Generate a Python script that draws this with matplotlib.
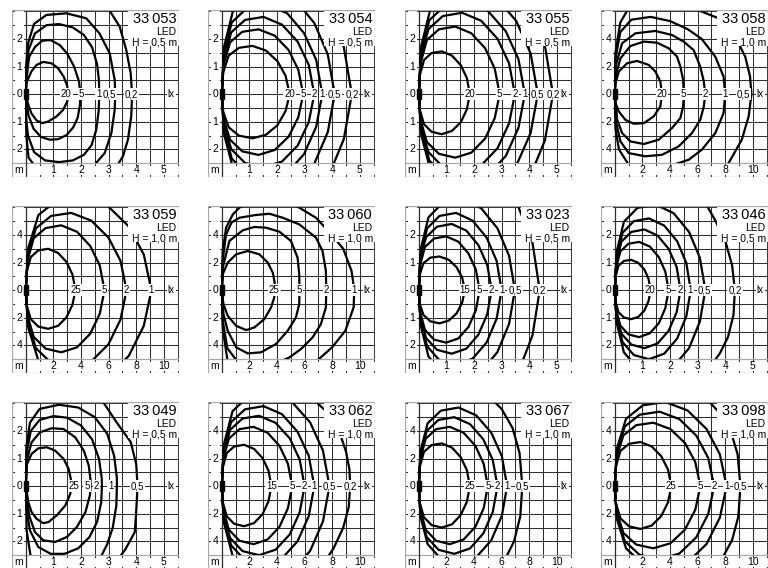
import matplotlib.pyplot as plt
from matplotlib.patches import Rectangle

plt.rcParams["font.family"] = ["Liberation Sans", "DejaVu Sans"]

FIG_W, FIG_H = 768, 568
PANEL = 167
COL_X = [12, 208, 405, 601]
ROW_Y = [10, 206, 402]

# ---- isolux curves, metres ----
# 33 053  LED  H = 0,5 m
P33053_LABELS = ["20", "5", "1", "0,5", "0,2"]
P33053_LABEL_X = [1.47, 2.01, 2.65, 3.04, 3.84]
P33053_CURVES = [
    [(0, 0), (0.02, 0.40), (0.20, 0.82), (0.39, 1.06), (0.63, 1.17), (0.93, 1.12), (1.17, 0.94),
     (1.37, 0.64), (1.50, 0.30), (1.53, 0), (1.50, -0.27), (1.35, -0.57), (1.11, -0.81),
     (0.81, -0.99), (0.60, -1.05), (0.39, -0.95), (0.20, -0.69), (0.08, -0.35), (0, 0)],
    [(0, 0), (0.03, 0.6), (0.12, 1.35), (0.34, 1.72), (0.6, 1.94), (0.9, 1.96), (1.23, 1.78),
     (1.5, 1.47), (1.75, 1.0), (1.93, 0.45), (1.98, 0), (1.96, -0.4), (1.88, -0.85), (1.72, -1.2),
     (1.48, -1.48), (1.17, -1.63), (0.87, -1.65), (0.55, -1.55), (0.28, -1.25), (0.09, -0.75), (0, 0)],
    [(0, 0), (0.02, 0.9), (0.1, 1.6), (0.33, 2.2), (0.75, 2.5), (1.2, 2.54), (1.7, 2.42),
     (2.1, 2.15), (2.4, 1.7), (2.58, 1.1), (2.65, 0.5), (2.66, 0), (2.64, -0.6), (2.55, -1.3),
     (2.38, -1.85), (2.1, -2.2), (1.7, -2.4), (1.2, -2.46), (0.7, -2.4), (0.3, -2.1),
     (0.08, -1.5), (0, -0.8), (0, 0)],
    [(0, 0), (0.01, 1.0), (0.08, 1.84), (0.3, 2.55), (0.75, 2.87), (1.47, 2.93), (2.19, 2.75),
     (2.67, 2.2), (3.04, 1.48), (3.22, 0.52), (3.24, 0), (3.22, -0.57), (3.1, -1.41),
     (2.86, -2.13), (2.55, -2.49), (2.3, -2.8), (1.2, -2.9), (0.4, -2.7), (0.1, -2.3),
     (0.02, -1.5), (0, 0)],
    [(2.9, 3.2), (3.01, 3.07), (3.4, 2.45), (3.64, 1.6), (3.8, 0.76), (3.85, 0), (3.82, -0.8),
     (3.7, -1.65), (3.52, -2.25), (3.3, -2.6)],
]

# 33 054  LED  H = 0,5 m
P33054_LABELS = ["20", "5", "2", "1", "0,5", "0,2"]
P33054_LABEL_X = [2.46, 2.95, 3.35, 3.64, 4.09, 4.71]
P33054_CURVES = [
    [(0, 0), (0.05, 0.79), (0.25, 1.4), (0.62, 1.68), (1.11, 1.75), (1.6, 1.58), (2.02, 1.19),
     (2.31, 0.67), (2.46, 0), (2.31, -0.61), (2.02, -1.12), (1.6, -1.47), (1.11, -1.6),
     (0.62, -1.5), (0.25, -1.2), (0.05, -0.64), (0, 0)],
    [(0, 0), (0.06, 1.06), (0.3, 1.88), (0.74, 2.26), (1.33, 2.35), (1.92, 2.12), (2.42, 1.6),
     (2.77, 0.89), (2.95, 0), (2.77, -0.84), (2.42, -1.54), (1.92, -2.02), (1.33, -2.2),
     (0.74, -2.07), (0.3, -1.65), (0.06, -0.88), (0, 0)],
    [(0, 0), (0.07, 1.26), (0.34, 2.24), (0.84, 2.69), (1.51, 2.8), (2.18, 2.52), (2.75, 1.9),
     (3.15, 1.06), (3.35, 0), (3.15, -1.01), (2.75, -1.86), (2.18, -2.44), (1.51, -2.65),
     (0.84, -2.49), (0.34, -1.99), (0.07, -1.06), (0, 0)],
    [(0, 0), (0.07, 1.46), (0.36, 2.6), (0.91, 3.12), (1.64, 3.25), (2.37, 2.93), (2.98, 2.21),
     (3.42, 1.24), (3.64, 0), (3.42, -1.18), (2.98, -2.17), (2.37, -2.85), (1.64, -3.1),
     (0.91, -2.91), (0.36, -2.33), (0.07, -1.24), (0, 0)],
    [(0, 0), (0.08, 1.71), (0.41, 3.04), (1.02, 3.65), (1.84, 3.8), (2.66, 3.42), (3.35, 2.58),
     (3.84, 1.44), (4.09, 0), (3.84, -1.37), (3.35, -2.52), (2.66, -3.31), (1.84, -3.6),
     (1.02, -3.38), (0.41, -2.7), (0.08, -1.44), (0, 0)],
    [(2.12, 4.5), (3.06, 4.05), (3.85, 3.06), (4.42, 1.71), (4.71, 0), (4.42, -1.63),
     (3.85, -3.01), (3.06, -3.96), (2.12, -4.3)],
]

# 33 055  LED  H = 0,5 m
P33055_LABELS = ["20", "5", "2", "1", "0,5", "0,2"]
P33055_LABEL_X = [1.85, 2.93, 3.48, 3.84, 4.31, 4.86]
P33055_CURVES = [
    [(0, 0), (0.04, 0.7), (0.19, 1.24), (0.46, 1.49), (0.83, 1.55), (1.2, 1.4), (1.52, 1.05),
     (1.74, 0.59), (1.85, 0), (1.74, -0.55), (1.52, -1.02), (1.2, -1.33), (0.83, -1.45),
     (0.46, -1.36), (0.19, -1.09), (0.04, -0.58), (0, 0)],
    [(0, 0), (0.06, 1.1), (0.29, 1.96), (0.73, 2.35), (1.32, 2.45), (1.9, 2.21), (2.4, 1.67),
     (2.75, 0.93), (2.93, 0), (2.75, -0.87), (2.4, -1.61), (1.9, -2.12), (1.32, -2.3),
     (0.73, -2.16), (0.29, -1.73), (0.06, -0.92), (0, 0)],
    [(0, 0), (0.07, 1.33), (0.35, 2.36), (0.87, 2.83), (1.57, 2.95), (2.26, 2.66), (2.85, 2.01),
     (3.27, 1.12), (3.48, 0), (3.27, -1.06), (2.85, -1.96), (2.26, -2.58), (1.57, -2.8),
     (0.87, -2.63), (0.35, -2.1), (0.07, -1.12), (0, 0)],
    [(0, 0), (0.08, 1.51), (0.38, 2.68), (0.96, 3.22), (1.73, 3.35), (2.5, 3.02), (3.15, 2.28),
     (3.61, 1.27), (3.84, 0), (3.61, -1.22), (3.15, -2.24), (2.5, -2.94), (1.73, -3.2),
     (0.96, -3.01), (0.38, -2.4), (0.08, -1.28), (0, 0)],
    [(0, 0), (0.09, 1.76), (0.43, 3.12), (1.08, 3.74), (1.94, 3.9), (2.8, 3.51), (3.53, 2.65),
     (4.05, 1.48), (4.31, 0), (4.05, -1.41), (3.53, -2.59), (2.8, -3.4), (1.94, -3.7),
     (1.08, -3.48), (0.43, -2.78), (0.09, -1.48), (0, 0)],
    [(2.19, 4.6), (3.16, 4.14), (3.99, 3.13), (4.57, 1.75), (4.86, 0), (4.57, -1.67),
     (3.99, -3.08), (3.16, -4.05), (2.19, -4.4)],
]

# 33 058  LED  H = 1,0 m
P33058_LABELS = ["20", "5", "2", "1", "0,5"]
P33058_LABEL_X = [3.42, 4.99, 6.55, 8.0, 9.33]
P33058_CURVES = [
    [(0, 0), (0.05, 0.8), (0.29, 1.64), (0.89, 2.24), (1.61, 2.41), (2.46, 2.12), (2.94, 1.64),
     (3.3, 0.92), (3.42, 0), (3.3, -0.89), (2.82, -1.61), (2.1, -2.1), (1.37, -2.14),
     (0.77, -1.86), (0.29, -1.25), (0.05, -0.65), (0, 0)],
    [(0, 0), (0.05, 1.28), (0.41, 2.6), (1.13, 3.49), (2.1, 3.81), (3.06, 3.73), (3.9, 3.33),
     (4.51, 2.72), (4.75, 2.0), (4.95, 1.04), (5.0, 0), (4.95, -0.89), (4.75, -1.73), (4.14, -2.46),
     (3.18, -3.3), (2.1, -3.61), (1.13, -3.42), (0.53, -2.82), (0.17, -1.86), (0, 0)],
    [(0, 0), (0.05, 2.0), (0.53, 3.69), (1.49, 4.41), (2.94, 4.58), (4.14, 4.29), (4.99, 3.81),
     (5.71, 3.2), (6.19, 2.0), (6.45, 0.92), (6.55, 0), (6.45, -0.89), (6.19, -1.86), (5.59, -2.82),
     (4.63, -3.78), (3.42, -4.39), (2.22, -4.5), (1.01, -4.27), (0.41, -3.42), (0.1, -2.1), (0, 0)],
    [(0, 0), (0.05, 2.6), (0.4, 4.5), (1.2, 5.4), (2.6, 5.6), (4.0, 5.3), (5.3, 4.7), (6.3, 4.0),
     (7.28, 2.72), (7.88, 1.28), (8.0, 0), (7.88, -1.37), (7.28, -2.82), (6.31, -4.02),
     (5.35, -4.75), (4.0, -5.2), (2.5, -5.4), (1.0, -5.1), (0.3, -4.0), (0.05, -2.5), (0, 0)],
    [(0, 0), (0.05, 3.0), (0.4, 5.2), (1.1, 6.4), (2.5, 6.9), (3.8, 6.7), (5.5, 6.3), (7.52, 5.5),
     (8.72, 4.17), (9.45, 2.72), (9.8, 1.28), (9.9, 0), (9.7, -1.6), (9.2, -3.3), (8.24, -5.0),
     (7.6, -5.8)],
]

# 33 059  LED  H = 1,0 m
P33059_LABELS = ["25", "5", "2", "1"]
P33059_LABEL_X = [3.6, 5.7, 7.3, 9.1]
P33059_CURVES = [
    [(0, 0), (0.07, 1.35), (0.36, 2.4), (0.9, 2.88), (1.62, 3.0), (2.34, 2.7), (2.95, 2.04),
     (3.38, 1.14), (3.6, 0), (3.38, -1.06), (2.95, -1.96), (2.34, -2.58), (1.62, -2.8),
     (0.9, -2.63), (0.36, -2.1), (0.07, -1.12), (0, 0)],
    [(0, 0), (0.11, 2.1), (0.57, 3.76), (1.43, 4.5), (2.57, 4.7), (3.71, 4.23), (4.67, 3.2),
     (5.36, 1.79), (5.7, 0), (5.36, -1.71), (4.67, -3.15), (3.71, -4.14), (2.57, -4.5),
     (1.43, -4.23), (0.57, -3.38), (0.11, -1.8), (0, 0)],
    [(0, 0), (0.15, 2.52), (0.73, 4.48), (1.83, 5.38), (3.29, 5.6), (4.75, 5.04), (5.99, 3.81),
     (6.86, 2.13), (7.3, 0), (6.86, -2.13), (5.99, -3.92), (4.75, -5.15), (3.29, -5.6),
     (1.83, -5.26), (0.73, -4.2), (0.15, -2.24), (0, 0)],
    [(0, 0), (0.18, 3.06), (0.91, 5.44), (2.28, 6.53), (4.1, 6.8), (5.92, 6.12), (7.46, 4.62),
     (8.55, 2.58), (9.1, 0), (8.55, -2.58), (7.46, -4.76), (5.92, -6.26), (4.1, -6.8),
     (2.28, -6.39), (0.91, -5.1), (0.18, -2.72), (0, 0)],
]

# 33 060  LED  H = 1,0 m
P33060_LABELS = ["25", "5", "2", "1"]
P33060_LABEL_X = [3.8, 5.6, 7.6, 9.6]
P33060_CURVES = [
    [(0, 0), (0.07, 1.16), (0.43, 2.0), (1.04, 2.6), (1.88, 2.84), (2.72, 2.6), (3.33, 2.0),
     (3.69, 1.28), (3.83, 0.55), (3.85, 0), (3.8, -0.53), (3.57, -1.25), (3.08, -2.1),
     (2.36, -2.7), (1.76, -2.89), (1.04, -2.58), (0.43, -1.86), (0.12, -1.01), (0, 0)],
    [(0, 0), (0.07, 1.64), (0.55, 3.57), (1.52, 4.34), (2.36, 4.58), (3.2, 4.53), (4.17, 4.24),
     (5.01, 3.57), (5.49, 2.36), (5.61, 1.16), (5.63, 0), (5.61, -1.01), (5.37, -1.98),
     (4.77, -2.94), (3.93, -3.9), (2.84, -4.5), (1.88, -4.58), (1.04, -4.14), (0.43, -2.94),
     (0.12, -1.73), (0, 0)],
    [(0, 0), (0.07, 2.2), (0.3, 4.0), (0.7, 4.9), (1.28, 5.25), (2.48, 5.45), (3.45, 5.54),
     (4.41, 5.25), (5.61, 4.77), (6.82, 3.81), (7.3, 2.84), (7.54, 1.4), (7.57, 0), (7.54, -1.25),
     (7.18, -2.46), (6.58, -3.42), (5.73, -4.27), (4.89, -4.87), (4.0, -5.3), (2.5, -5.5),
     (1.3, -5.4), (0.4, -4.2), (0.07, -2.2), (0, 0)],
    [(0, 0), (0.07, 2.84), (0.31, 4.53), (0.8, 5.49), (1.28, 5.98), (2.5, 6.6), (4.5, 6.6),
     (5.61, 5.98), (6.82, 5.25), (7.8, 4.2), (8.8, 3.0), (9.4, 1.4), (9.6, 0), (9.55, -1.25),
     (8.95, -2.94), (7.99, -4.14), (7.04, -4.99), (6.5, -5.4), (4.0, -6.5), (1.0, -6.3),
     (0.4, -5.0), (0.07, -2.8), (0, 0)],
]

# 33 023  LED  H = 0,5 m
P33023_LABELS = ["15", "5", "2", "1", "0,5", "0,2"]
P33023_LABEL_X = [1.67, 2.2, 2.64, 3.0, 3.48, 4.38]
P33023_CURVES = [
    [(0, 0), (0.03, 0.55), (0.17, 0.98), (0.42, 1.18), (0.75, 1.22), (1.09, 1.1), (1.37, 0.83),
     (1.57, 0.46), (1.67, 0), (1.57, -0.45), (1.37, -0.84), (1.09, -1.1), (0.75, -1.2),
     (0.42, -1.13), (0.17, -0.9), (0.03, -0.48), (0, 0)],
    [(0, 0), (0.04, 0.88), (0.22, 1.56), (0.55, 1.87), (0.99, 1.95), (1.43, 1.76), (1.8, 1.33),
     (2.07, 0.74), (2.2, 0), (2.07, -0.72), (1.8, -1.33), (1.43, -1.75), (0.99, -1.9),
     (0.55, -1.79), (0.22, -1.43), (0.04, -0.76), (0, 0)],
    [(0, 0), (0.05, 1.08), (0.26, 1.92), (0.66, 2.3), (1.19, 2.4), (1.72, 2.16), (2.16, 1.63),
     (2.48, 0.91), (2.64, 0), (2.48, -0.87), (2.16, -1.61), (1.72, -2.12), (1.19, -2.3),
     (0.66, -2.16), (0.26, -1.73), (0.05, -0.92), (0, 0)],
    [(0, 0), (0.06, 1.26), (0.3, 2.24), (0.75, 2.69), (1.35, 2.8), (1.95, 2.52), (2.46, 1.9),
     (2.82, 1.06), (3.0, 0), (2.82, -1.03), (2.46, -1.89), (1.95, -2.48), (1.35, -2.7),
     (0.75, -2.54), (0.3, -2.03), (0.06, -1.08), (0, 0)],
    [(0, 0), (0.07, 1.49), (0.35, 2.64), (0.87, 3.17), (1.57, 3.3), (2.26, 2.97), (2.85, 2.24),
     (3.27, 1.25), (3.48, 0), (3.27, -1.22), (2.85, -2.24), (2.26, -2.94), (1.57, -3.2),
     (0.87, -3.01), (0.35, -2.4), (0.07, -1.28), (0, 0)],
    [(1.97, 4.5), (2.85, 4.05), (3.59, 3.06), (4.12, 1.71), (4.38, 0), (4.12, -1.63),
     (3.59, -3.01), (2.85, -3.96), (1.97, -4.3)],
]

# 33 046  LED  H = 0,5 m
P33046_LABELS = ["20", "5", "2", "1", "0,5", "0,2"]
P33046_LABEL_X = [1.27, 1.92, 2.36, 2.72, 3.26, 4.35]
P33046_CURVES = [
    [(0, 0), (0.03, 0.5), (0.13, 0.88), (0.33, 1.06), (0.59, 1.1), (0.85, 0.99), (1.07, 0.75),
     (1.22, 0.42), (1.3, 0), (1.22, -0.4), (1.07, -0.74), (0.85, -0.97), (0.59, -1.05),
     (0.33, -0.99), (0.13, -0.79), (0.03, -0.42), (0, 0)],
    [(0, 0), (0.04, 0.79), (0.2, 1.4), (0.49, 1.68), (0.88, 1.75), (1.27, 1.58), (1.6, 1.19),
     (1.83, 0.67), (1.95, 0), (1.83, -0.65), (1.6, -1.19), (1.27, -1.56), (0.88, -1.7),
     (0.49, -1.6), (0.2, -1.28), (0.04, -0.68), (0, 0)],
    [(0, 0), (0.05, 0.99), (0.24, 1.76), (0.6, 2.11), (1.07, 2.2), (1.55, 1.98), (1.95, 1.5),
     (2.24, 0.84), (2.38, 0), (2.24, -0.8), (1.95, -1.47), (1.55, -1.93), (1.07, -2.1),
     (0.6, -1.97), (0.24, -1.58), (0.05, -0.84), (0, 0)],
    [(0, 0), (0.06, 1.17), (0.28, 2.08), (0.69, 2.5), (1.24, 2.6), (1.79, 2.34), (2.26, 1.77),
     (2.59, 0.99), (2.75, 0), (2.59, -0.95), (2.26, -1.75), (1.79, -2.3), (1.24, -2.5),
     (0.69, -2.35), (0.28, -1.88), (0.06, -1.0), (0, 0)],
    [(0, 0), (0.07, 1.4), (0.33, 2.48), (0.82, 2.98), (1.48, 3.1), (2.13, 2.79), (2.69, 2.11),
     (3.08, 1.18), (3.28, 0), (3.08, -1.14), (2.69, -2.1), (2.13, -2.76), (1.48, -3.0),
     (0.82, -2.82), (0.33, -2.25), (0.07, -1.2), (0, 0)],
    [(3.2, 3.3), (3.6, 2.6), (4.0, 1.8), (4.25, 0.9), (4.35, 0), (4.3, -0.9), (4.1, -1.7),
     (3.8, -2.3), (3.5, -2.7)],
]

# 33 049  LED  H = 0,5 m
P33049_LABELS = ["25", "5", "2", "1", "0,5"]
P33049_LABEL_X = [1.76, 2.22, 2.56, 3.07, 4.05]
P33049_CURVES = [
    [(0, 0), (0.02, 0.75), (0.21, 1.17), (0.45, 1.37), (0.76, 1.41), (1.06, 1.29), (1.37, 0.99),
     (1.55, 0.63), (1.63, 0.27), (1.65, 0), (1.61, -0.28), (1.43, -0.7), (1.12, -1.06),
     (0.82, -1.3), (0.63, -1.34), (0.39, -1.18), (0.21, -0.94), (0.09, -0.58), (0, 0)],
    [(0, 0), (0.05, 0.99), (0.21, 1.59), (0.51, 1.95), (0.94, 2.1), (1.37, 2.07), (1.79, 1.77),
     (2.1, 1.29), (2.28, 0.75), (2.34, 0.27), (2.35, 0), (2.32, -0.34), (2.16, -0.94),
     (1.85, -1.48), (1.49, -1.84), (1.06, -2.02), (0.63, -1.96), (0.33, -1.66), (0.12, -1.06), (0, 0)],
    [(0, 0), (0.03, 1.2), (0.18, 2.0), (0.5, 2.4), (1.0, 2.54), (1.5, 2.48), (2.0, 2.2), (2.4, 1.7),
     (2.65, 1.0), (2.75, 0.3), (2.76, 0), (2.73, -0.6), (2.58, -1.3), (2.3, -1.85), (1.9, -2.25),
     (1.4, -2.45), (0.9, -2.45), (0.45, -2.2), (0.15, -1.6), (0.02, -0.8), (0, 0)],
    [(0, 0), (0.02, 1.4), (0.15, 2.3), (0.5, 2.8), (1.2, 2.95), (1.9, 2.85), (2.5, 2.5), (2.95, 1.9),
     (3.2, 1.1), (3.3, 0.3), (3.3, 0), (3.28, -0.7), (3.15, -1.5), (2.95, -2.1), (2.75, -2.5),
     (2.4, -2.9), (1.0, -3.1), (0.2, -2.7), (0.03, -1.6), (0, 0)],
    [(2.5, 3.3), (2.8, 3.05), (3.3, 2.3), (3.8, 1.6), (4.0, 0.8), (4.05, 0), (4.0, -0.9),
     (3.95, -1.66), (3.6, -2.3), (3.3, -2.7)],
]

# 33 062  LED  H = 1,0 m
P33062_LABELS = ["15", "5", "2", "1", "0,5", "0,2"]
P33062_LABEL_X = [3.6, 5.1, 6.0, 6.7, 7.8, 9.3]
P33062_CURVES = [
    [(0, 0), (0.07, 1.35), (0.36, 2.4), (0.9, 2.88), (1.62, 3.0), (2.34, 2.7), (2.95, 2.04),
     (3.38, 1.14), (3.6, 0), (3.38, -1.1), (2.95, -2.03), (2.34, -2.67), (1.62, -2.9),
     (0.9, -2.73), (0.36, -2.18), (0.07, -1.16), (0, 0)],
    [(0, 0), (0.1, 1.94), (0.51, 3.44), (1.28, 4.13), (2.3, 4.3), (3.32, 3.87), (4.18, 2.92),
     (4.79, 1.63), (5.1, 0), (4.79, -1.6), (4.18, -2.94), (3.32, -3.86), (2.3, -4.2),
     (1.28, -3.95), (0.51, -3.15), (0.1, -1.68), (0, 0)],
    [(0, 0), (0.12, 2.3), (0.6, 4.08), (1.5, 4.9), (2.7, 5.1), (3.9, 4.59), (4.92, 3.47),
     (5.64, 1.94), (6.0, 0), (5.64, -1.9), (4.92, -3.5), (3.9, -4.6), (2.7, -5.0),
     (1.5, -4.7), (0.6, -3.75), (0.12, -2.0), (0, 0)],
    [(0, 0), (0.13, 2.61), (0.67, 4.64), (1.68, 5.57), (3.02, 5.8), (4.36, 5.22), (5.49, 3.94),
     (6.3, 2.2), (6.7, 0), (6.3, -2.17), (5.49, -3.99), (4.36, -5.24), (3.02, -5.7),
     (1.68, -5.36), (0.67, -4.28), (0.13, -2.28), (0, 0)],
    [(0, 0), (0.16, 3.06), (0.78, 5.44), (1.95, 6.53), (3.51, 6.8), (5.07, 6.12), (6.4, 4.62),
     (7.33, 2.58), (7.8, 0), (7.33, -2.55), (6.4, -4.69), (5.07, -6.16), (3.51, -6.7),
     (1.95, -6.3), (0.78, -5.03), (0.16, -2.68), (0, 0)],
    [(6.5, 6.4), (7.6, 5.4), (8.5, 4.0), (9.0, 2.5), (9.25, 1.2), (9.3, 0), (9.2, -1.5),
     (8.8, -3.0), (8.1, -4.5), (7.3, -5.7), (6.8, -6.3)],
]

# 33 067  LED  H = 1,0 m
P33067_LABELS = ["25", "5", "2", "1", "0,5"]
P33067_LABEL_X = [3.7, 5.0, 5.7, 6.4, 7.5]
P33067_CURVES = [
    [(0, 0), (0.07, 1.4), (0.37, 2.48), (0.93, 2.98), (1.67, 3.1), (2.41, 2.79), (3.03, 2.11),
     (3.48, 1.18), (3.7, 0), (3.48, -1.14), (3.03, -2.1), (2.41, -2.76), (1.67, -3.0),
     (0.93, -2.82), (0.37, -2.25), (0.07, -1.2), (0, 0)],
    [(0, 0), (0.1, 1.94), (0.5, 3.44), (1.25, 4.13), (2.25, 4.3), (3.25, 3.87), (4.1, 2.92),
     (4.7, 1.63), (5.0, 0), (4.7, -1.6), (4.1, -2.94), (3.25, -3.86), (2.25, -4.2),
     (1.25, -3.95), (0.5, -3.15), (0.1, -1.68), (0, 0)],
    [(0, 0), (0.11, 2.25), (0.57, 4.0), (1.43, 4.8), (2.57, 5.0), (3.71, 4.5), (4.67, 3.4),
     (5.36, 1.9), (5.7, 0), (5.36, -1.86), (4.67, -3.43), (3.71, -4.51), (2.57, -4.9),
     (1.43, -4.61), (0.57, -3.68), (0.11, -1.96), (0, 0)],
    [(0, 0), (0.13, 2.57), (0.64, 4.56), (1.6, 5.47), (2.88, 5.7), (4.16, 5.13), (5.25, 3.88),
     (6.02, 2.17), (6.4, 0), (6.02, -2.13), (5.25, -3.92), (4.16, -5.15), (2.88, -5.6),
     (1.6, -5.26), (0.64, -4.2), (0.13, -2.24), (0, 0)],
    [(5.0, 6.6), (6.0, 5.6), (6.8, 4.2), (7.3, 2.4), (7.5, 0), (7.35, -2.2), (6.9, -4.0),
     (6.2, -5.4), (5.5, -6.3)],
]

# 33 098  LED  H = 1,0 m
P33098_LABELS = ["25", "5", "2", "1", "0,5"]
P33098_LABEL_X = [4.1, 6.2, 7.2, 8.1, 9.1]
P33098_CURVES = [
    [(0, 0), (0.08, 1.44), (0.41, 2.56), (1.03, 3.07), (1.85, 3.2), (2.67, 2.88), (3.36, 2.18),
     (3.85, 1.22), (4.1, 0), (3.85, -1.18), (3.36, -2.17), (2.67, -2.85), (1.85, -3.1),
     (1.03, -2.91), (0.41, -2.33), (0.08, -1.24), (0, 0)],
    [(0, 0), (0.12, 2.07), (0.62, 3.68), (1.55, 4.42), (2.79, 4.6), (4.03, 4.14), (5.08, 3.13),
     (5.83, 1.75), (6.2, 0), (5.83, -1.71), (5.08, -3.15), (4.03, -4.14), (2.79, -4.5),
     (1.55, -4.23), (0.62, -3.38), (0.12, -1.8), (0, 0)],
    [(0, 0), (0.14, 2.43), (0.72, 4.32), (1.8, 5.18), (3.24, 5.4), (4.68, 4.86), (5.9, 3.67),
     (6.77, 2.05), (7.2, 0), (6.77, -2.01), (5.9, -3.71), (4.68, -4.88), (3.24, -5.3),
     (1.8, -4.98), (0.72, -3.98), (0.14, -2.12), (0, 0)],
    [(0, 0), (0.16, 2.75), (0.81, 4.88), (2.03, 5.86), (3.65, 6.1), (5.27, 5.49), (6.64, 4.15),
     (7.61, 2.32), (8.1, 0), (7.61, -2.28), (6.64, -4.2), (5.27, -5.52), (3.65, -6.0),
     (2.03, -5.64), (0.81, -4.5), (0.16, -2.4), (0, 0)],
    [(6.5, 6.5), (7.6, 5.3), (8.4, 4.0), (8.9, 2.3), (9.1, 0), (8.95, -2.2), (8.5, -3.9),
     (7.8, -5.2), (7.0, -6.3)],
]

# (column, row, number, mounting height, labels, label positions, curves)
PANELS = [
    (0, 0, "33\u2009053", 0.5, P33053_LABELS, P33053_LABEL_X, P33053_CURVES),
    (1, 0, "33\u2009054", 0.5, P33054_LABELS, P33054_LABEL_X, P33054_CURVES),
    (2, 0, "33\u2009055", 0.5, P33055_LABELS, P33055_LABEL_X, P33055_CURVES),
    (3, 0, "33\u2009058", 1.0, P33058_LABELS, P33058_LABEL_X, P33058_CURVES),
    (0, 1, "33\u2009059", 1.0, P33059_LABELS, P33059_LABEL_X, P33059_CURVES),
    (1, 1, "33\u2009060", 1.0, P33060_LABELS, P33060_LABEL_X, P33060_CURVES),
    (2, 1, "33\u2009023", 0.5, P33023_LABELS, P33023_LABEL_X, P33023_CURVES),
    (3, 1, "33\u2009046", 0.5, P33046_LABELS, P33046_LABEL_X, P33046_CURVES),
    (0, 2, "33\u2009049", 0.5, P33049_LABELS, P33049_LABEL_X, P33049_CURVES),
    (1, 2, "33\u2009062", 1.0, P33062_LABELS, P33062_LABEL_X, P33062_CURVES),
    (2, 2, "33\u2009067", 1.0, P33067_LABELS, P33067_LABEL_X, P33067_CURVES),
    (3, 2, "33\u2009098", 1.0, P33098_LABELS, P33098_LABEL_X, P33098_CURVES),
]

GRID = "#2e2e2e"
FRAME = "#a8a8a8"


def draw_panel(fig, col, row, number, height, labels, label_x, curves):
    k = 1 if height == 0.5 else 2   # grid unit: 0,5 m or 1 m
    ax = fig.add_axes([COL_X[col] / FIG_W, 1 - (ROW_Y[row] + PANEL) / FIG_H,
                       PANEL / FIG_W, PANEL / FIG_H])
    x0, x1 = -0.5 * k, 5.55 * k
    y0, y1 = -3.0 * k, 3.05 * k
    yb = -2.5 * k
    ax.set_xlim(x0, x1)
    ax.set_ylim(y0, y1)
    ax.axis("off")

    step = 0.5 * k
    xs = [step * i for i in range(1, 12)]
    ys = [step * j for j in range(-4, 7)]
    for x in xs:
        ax.plot([x, x], [yb, y1], color=GRID, lw=0.75, zorder=1)
        ax.plot([x, x], [y0, y0 + 0.07 * k], color=GRID, lw=0.75, zorder=1)
        ax.plot([x, x], [yb - 0.08 * k, yb], color=GRID, lw=0.75, zorder=1)
    for y in ys:
        ax.plot([0, x1], [y, y], color=GRID, lw=0.75, zorder=1)
        ax.plot([x0, x0 + 0.07 * k], [y, y], color=GRID, lw=0.75, zorder=1)
        ax.plot([-0.08 * k, 0], [y, y], color=GRID, lw=0.75, zorder=1)
    ax.plot([x0, x1], [yb, yb], color=FRAME, lw=0.9, zorder=1)
    ax.plot([0, 0], [y0, y1], color=GRID, lw=0.9, zorder=1)
    ax.add_patch(Rectangle((x0, y0), x1 - x0, y1 - y0, fill=False, ec=FRAME, lw=0.9, zorder=8))

    for v in (-2, -1, 0, 1, 2):
        ax.text(-0.24 * k, v * k, str(abs(v * k)), ha="center", va="center", fontsize=7.5, zorder=3)
    for v in range(1, 6):
        ax.text(v * k, -2.76 * k, str(v * k), ha="center", va="center", fontsize=7.5, zorder=3)
    ax.text(-0.25 * k, -2.76 * k, "m", ha="center", va="center", fontsize=7.5, zorder=3)

    clip = Rectangle((-0.03 * k, yb), x1 + 0.03 * k, y1 - yb, transform=ax.transData)
    for pts in curves:
        line, = ax.plot([p[0] for p in pts], [p[1] for p in pts], color="black", lw=1.6,
                        solid_joinstyle="round", solid_capstyle="round", zorder=2)
        line.set_clip_path(clip)

    ax.add_patch(Rectangle((-0.07 * k, -0.18 * k), 0.16 * k, 0.36 * k, color="black", zorder=5))

    box = dict(boxstyle="square,pad=0.1", fc="white", ec="none")
    for t, x in zip(labels, label_x):
        ax.text(x, 0, t, ha="center", va="center", fontsize=7, bbox=box, zorder=6)
    ax.text(5.27 * k, 0, "lx", ha="center", va="center", fontsize=7, bbox=box, zorder=6)

    # white block behind the type designation
    ax.add_patch(Rectangle((3.72 * k, 1.74 * k), x1 - 3.72 * k, y1 - 1.74 * k,
                           fc="white", ec="none", zorder=6))
    ax.text(5.45 * k, 2.96 * k, number, ha="right", va="top", fontsize=10.5, zorder=7)
    ax.text(5.45 * k, 2.42 * k, "LED", ha="right", va="top", fontsize=7.5, zorder=7)
    h_txt = "H = 0,5 m" if height == 0.5 else "H = 1,0 m"
    ax.text(5.47 * k, 2.05 * k, h_txt, ha="right", va="top", fontsize=7.5, zorder=7)


fig = plt.figure(figsize=(FIG_W / 100, FIG_H / 100), dpi=100)
for col, row, number, height, labels, label_x, curves in PANELS:
    draw_panel(fig, col, row, number, height, labels, label_x, curves)
fig.savefig("out.png", dpi=100)
